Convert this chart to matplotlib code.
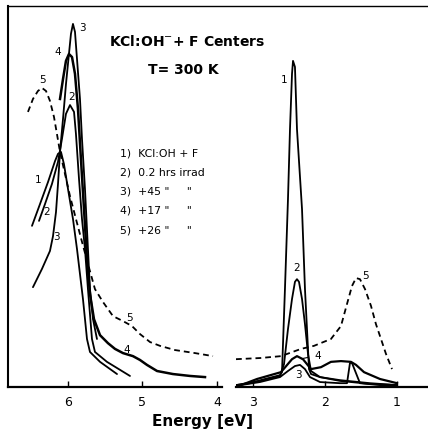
import matplotlib
matplotlib.use("Agg")
import matplotlib.pyplot as plt
from matplotlib.lines import Line2D

# ---------------- data (energy in eV, absorbance in arbitrary units) -------------
# Left panel (UV region)
E1_uv = [6.483, 6.376, 6.268, 6.174, 6.134, 6.094, 6.054, 6.000, 5.933, 5.879, 5.799, 5.745, 5.705, 5.570, 5.342]
A1_uv = [0.423, 0.480, 0.538, 0.593, 0.612, 0.617, 0.585, 0.520, 0.441, 0.362, 0.231, 0.126, 0.092, 0.066, 0.034]

E2_uv = [6.389, 6.309, 6.215, 6.134, 6.081, 6.027, 5.973, 5.919, 5.893, 5.852, 5.812, 5.772, 5.732, 5.678, 5.638, 5.477, 5.168]
A2_uv = [0.436, 0.480, 0.533, 0.591, 0.651, 0.717, 0.740, 0.722, 0.664, 0.546, 0.441, 0.362, 0.257, 0.126, 0.092, 0.066, 0.029]

E3_uv = [6.470, 6.349, 6.242, 6.201, 6.161, 6.134, 6.107, 6.067, 6.027, 5.987, 5.960, 5.933, 5.906, 5.879, 5.839, 5.812, 5.772, 5.732, 5.705, 5.664, 5.611]
A3_uv = [0.262, 0.310, 0.357, 0.396, 0.459, 0.533, 0.617, 0.703, 0.795, 0.874, 0.927, 0.953, 0.932, 0.861, 0.756, 0.651, 0.520, 0.362, 0.257, 0.178, 0.126]

E4_uv = [6.107, 6.067, 6.027, 5.987, 5.946, 5.906, 5.866, 5.826, 5.785, 5.745, 5.705, 5.651, 5.570, 5.463, 5.369, 5.262, 5.128, 5.034, 4.940, 4.805, 4.591, 4.362, 4.161]
A4_uv = [0.756, 0.808, 0.856, 0.874, 0.866, 0.822, 0.730, 0.598, 0.467, 0.336, 0.244, 0.178, 0.136, 0.115, 0.100, 0.089, 0.081, 0.071, 0.058, 0.042, 0.034, 0.029, 0.026]

E5_uv = [6.537, 6.470, 6.403, 6.349, 6.295, 6.242, 6.188, 6.148, 6.107, 6.040, 5.973, 5.893, 5.812, 5.732, 5.638, 5.530, 5.396, 5.262, 5.141, 5.034, 4.899, 4.765, 4.564, 4.295, 4.054]
A5_uv = [0.722, 0.756, 0.777, 0.785, 0.777, 0.751, 0.709, 0.664, 0.617, 0.559, 0.501, 0.441, 0.381, 0.323, 0.257, 0.223, 0.186, 0.173, 0.160, 0.139, 0.118, 0.108, 0.097, 0.089, 0.081]

# Right panel (visible / near IR region)
E1_vis = [3.236, 3.042, 2.833, 2.625, 2.597, 2.556, 2.514, 2.486, 2.458, 2.444, 2.417, 2.389, 2.319, 2.278, 2.222, 2.194, 2.069, 1.792, 1.375, 1.000]
A1_vis = [0.005, 0.010, 0.021, 0.031, 0.039, 0.257, 0.493, 0.677, 0.822, 0.856, 0.840, 0.677, 0.467, 0.257, 0.047, 0.034, 0.026, 0.016, 0.008, 0.005]

E2_vis = [3.236, 2.903, 2.625, 2.569, 2.514, 2.458, 2.417, 2.389, 2.361, 2.319, 2.278, 2.236, 2.194, 2.069, 1.792, 1.375, 1.000]
A2_vis = [0.005, 0.016, 0.029, 0.060, 0.152, 0.231, 0.276, 0.283, 0.276, 0.231, 0.165, 0.087, 0.042, 0.026, 0.018, 0.010, 0.005]

E3_vis = [3.236, 2.903, 2.625, 2.514, 2.417, 2.347, 2.278, 2.208, 2.069, 1.792, 1.694, 1.653, 1.625, 1.514, 1.236, 1.000]
A3_vis = [0.003, 0.013, 0.026, 0.042, 0.055, 0.058, 0.047, 0.026, 0.013, 0.010, 0.010, 0.063, 0.063, 0.010, 0.005, 0.003]

E4_vis = [3.236, 2.944, 2.611, 2.458, 2.389, 2.306, 2.194, 2.056, 1.917, 1.778, 1.639, 1.569, 1.458, 1.236, 1.000]
A4_vis = [0.000, 0.021, 0.039, 0.073, 0.081, 0.073, 0.047, 0.052, 0.066, 0.068, 0.066, 0.058, 0.039, 0.021, 0.010]

E5_vis = [3.236, 2.903, 2.611, 2.333, 2.153, 1.917, 1.778, 1.694, 1.625, 1.569, 1.514, 1.444, 1.361, 1.292, 1.222, 1.153, 1.069]
A5_vis = [0.073, 0.076, 0.081, 0.100, 0.108, 0.126, 0.160, 0.218, 0.265, 0.286, 0.283, 0.257, 0.213, 0.165, 0.126, 0.087, 0.047]

ticks_uv = [6, 5, 4]
ticks_vis = [3, 2, 1]
legend_lines = ["1)  KCl:OH + F", "2)  0.2 hrs irrad", '3)  +45 "     "', '4)  +17 "     "', '5)  +26 "     "']

# ---------------- figure ----------------
W, H = 428, 431
fig = plt.figure(figsize=(W / 100, H / 100), dpi=100)
plt.rcParams['font.family'] = ['DejaVu Sans']

def frac(x0, y0, x1, y1):
    return [x0 / W, 1 - y1 / H, (x1 - x0) / W, (y1 - y0) / H]

axL = fig.add_axes(frac(8, 7, 222, 388))
axR = fig.add_axes(frac(236, 7, 428, 388))

solid = dict(color="black", lw=1.3, solid_capstyle="round")
dashed = dict(color="black", lw=1.3, linestyle=(0, (3.2, 2.2)))

axL.plot(E1_uv, A1_uv, **solid)
axL.plot(E2_uv, A2_uv, **solid)
axL.plot(E3_uv, A3_uv, **solid)
axL.plot(E4_uv, A4_uv, color="black", lw=1.8)
axL.plot(E5_uv, A5_uv, **dashed)

axR.plot(E1_vis, A1_vis, **solid)
axR.plot(E2_vis, A2_vis, **solid)
axR.plot(E3_vis, A3_vis, **solid)
axR.plot(E4_vis, A4_vis, color="black", lw=1.6)
axR.plot(E5_vis, A5_vis, **dashed)

axL.set_xlim(6.805, 3.933)
axR.set_xlim(3.236, 0.569)
for ax in (axL, axR):
    ax.set_ylim(0, 1.0)
    ax.set_yticks([])
    ax.spines["right"].set_visible(False)
    ax.spines["top"].set_visible(False)
    ax.spines["bottom"].set_linewidth(1.6)
    ax.tick_params(axis="x", direction="in", length=4, width=1.0, pad=6, labelsize=9)
    ax.patch.set_alpha(0)
axL.spines["left"].set_linewidth(1.5)
axR.spines["left"].set_visible(False)
axL.set_xticks(ticks_uv)
axL.set_xticklabels([str(t) for t in ticks_uv])
axR.set_xticks(ticks_vis)
axR.set_xticklabels([str(t) for t in ticks_vis])

# continuous top frame line across both panels
fig.add_artist(Line2D([8 / W, 1.0], [1 - 7 / H, 1 - 7 / H], color="black", lw=1.0))

# curve labels
lab = dict(fontsize=7.5, ha="center", va="center")
axL.text(5.799, 0.945, "3", **lab)
axL.text(6.134, 0.882, "4", **lab)
axL.text(6.336, 0.808, "5", **lab)
axL.text(5.946, 0.764, "2", **lab)
axL.text(6.403, 0.546, "1", **lab)
axL.text(6.282, 0.462, "2", **lab)
axL.text(6.148, 0.396, "3", **lab)
axL.text(5.168, 0.184, "5", **lab)
axL.text(5.208, 0.100, "4", **lab)

axR.text(2.569, 0.808, "1", **lab)
axR.text(2.389, 0.315, "2", **lab)
axR.text(1.431, 0.294, "5", **lab)
axR.text(2.375, 0.033, "3", **lab)
axR.annotate("4", xy=(2.33, 0.074), xytext=(2.097, 0.083), fontsize=7.5,
             ha="center", va="center",
             arrowprops=dict(arrowstyle="-", lw=0.8, color="black", shrinkA=3, shrinkB=0))

# title and legend text
fig.text(187 / W, 1 - 42 / H, "KCl:OH$^{-}$+ F Centers", fontsize=10, fontweight="bold",
         ha="center", va="center")
fig.text(183 / W, 1 - 70 / H, "T= 300 K", fontsize=10, fontweight="bold",
         ha="center", va="center")
for i, s in enumerate(legend_lines):
    fig.text(120 / W, 1 - (153 + 19.3 * i) / H, s, fontsize=7.8, ha="left", va="center")

fig.text(203 / W, 1 - 422 / H, "Energy [eV]", fontsize=11, fontweight="bold",
         ha="center", va="center")

fig.savefig("out.png", dpi=100)
